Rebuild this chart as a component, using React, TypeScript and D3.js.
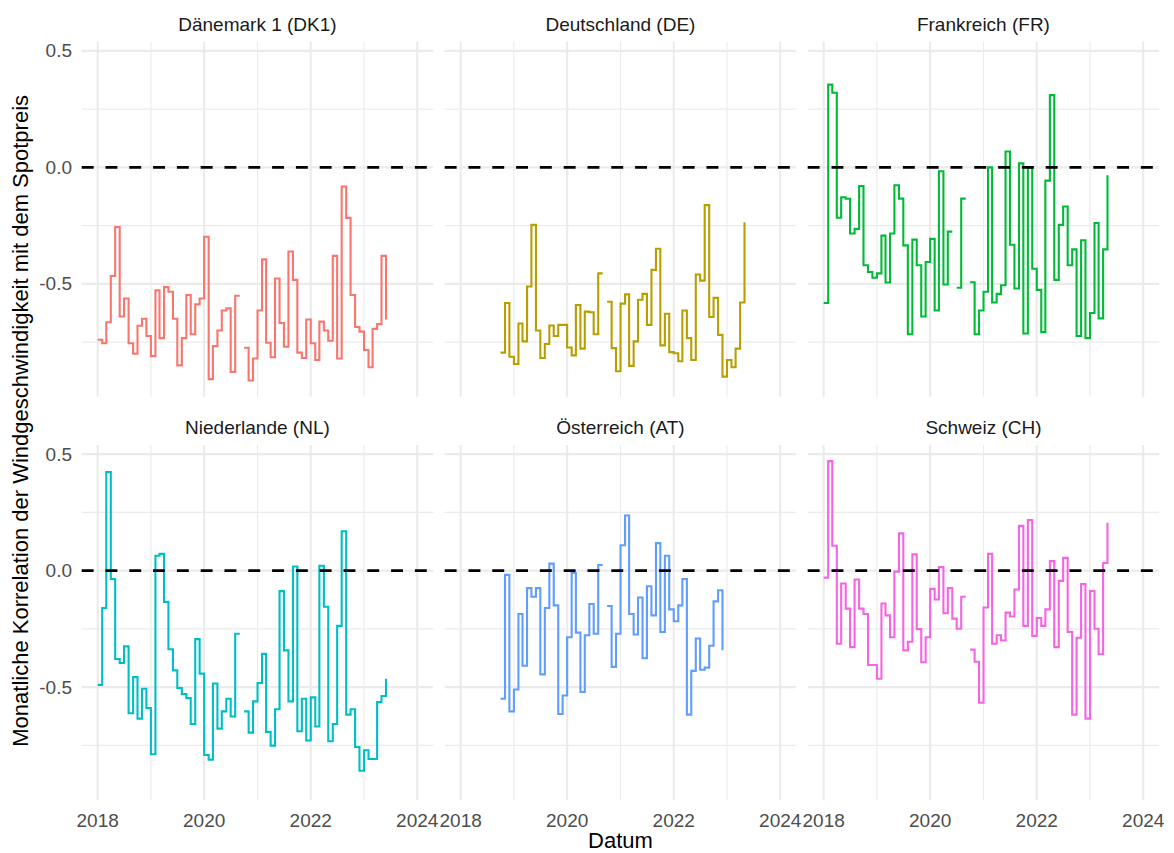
import * as d3 from "d3";

// monatliche Korrelationen, Index 0 = Jan 2018, null = keine Daten
const countries = ["Dänemark 1 (DK1)", "Deutschland (DE)", "Frankreich (FR)", "Niederlande (NL)", "Österreich (AT)", "Schweiz (CH)"];
const colors = ["#F8766D", "#B79F00", "#00BA38", "#00BFC4", "#619CFF", "#F564E3"];
const startMonth = [0, 9, 0, 0, 9, 0];

const dk1 = [-0.74, -0.755, -0.665, -0.466, -0.256, -0.64, -0.563, -0.755, -0.8, -0.68, -0.65, -0.724, -0.81, -0.528, -0.733, -0.514, -0.534, -0.65, -0.85, -0.733, -0.548, -0.716, -0.588, -0.563, -0.298, -0.909, -0.767, -0.7, -0.614, -0.605, -0.878, -0.551, null, -0.774, -0.915, -0.82, -0.614, -0.395, -0.753, -0.815, -0.477, -0.668, -0.77, -0.361, -0.483, -0.795, -0.818, -0.653, -0.755, -0.827, -0.662, -0.7, -0.744, -0.38, -0.82, -0.082, -0.217, -0.548, -0.685, -0.705, -0.784, -0.858, -0.693, -0.673, -0.38, -0.653];
const de = [-0.795, -0.582, -0.813, -0.844, -0.67, -0.747, -0.511, -0.247, -0.7, -0.818, -0.758, -0.679, -0.724, -0.676, -0.676, -0.773, -0.807, -0.591, -0.778, -0.619, -0.622, -0.716, -0.455, null, -0.577, -0.776, -0.875, -0.585, -0.545, -0.852, -0.747, -0.568, -0.543, -0.676, -0.44, -0.349, -0.764, -0.628, -0.793, -0.798, -0.832, -0.614, -0.733, -0.827, -0.46, -0.486, -0.162, -0.642, -0.56, -0.719, -0.898, -0.827, -0.858, -0.778, -0.58, -0.236];
const fr = [-0.582, 0.355, 0.32, -0.216, -0.128, -0.135, -0.284, -0.264, -0.08, -0.42, -0.449, -0.474, -0.455, -0.293, -0.494, -0.284, -0.077, -0.134, -0.335, -0.716, -0.31, -0.42, -0.64, -0.406, -0.307, -0.614, -0.017, -0.503, -0.276, null, -0.517, -0.134, null, -0.493, -0.716, -0.614, -0.534, 0.0, -0.58, -0.543, -0.506, 0.068, -0.332, -0.52, 0.017, -0.713, -0.003, -0.435, -0.526, -0.707, -0.057, 0.31, -0.483, -0.247, -0.168, -0.42, -0.352, -0.724, -0.313, -0.733, -0.625, -0.239, -0.648, -0.352, -0.034];
const nl = [-0.49, -0.16, 0.423, -0.036, -0.379, -0.396, -0.325, -0.612, -0.457, -0.635, -0.507, -0.59, -0.788, 0.064, 0.072, -0.134, -0.337, -0.428, -0.504, -0.53, -0.547, -0.658, -0.294, -0.442, -0.791, -0.811, -0.484, -0.678, -0.604, -0.55, -0.626, -0.271, null, -0.604, -0.695, -0.561, -0.482, -0.357, -0.692, -0.751, -0.595, -0.088, -0.342, -0.561, 0.018, -0.689, -0.55, -0.729, -0.544, -0.669, 0.021, -0.155, -0.732, -0.658, -0.237, 0.169, -0.618, -0.595, -0.757, -0.859, -0.771, -0.808, -0.808, -0.564, -0.538, -0.464];
const at = [-0.55, -0.018, -0.604, -0.51, -0.186, -0.408, -0.075, -0.112, -0.075, -0.445, -0.16, 0.03, -0.149, -0.615, -0.536, -0.286, -0.01, -0.266, -0.521, -0.277, -0.143, -0.271, 0.024, null, -0.152, -0.413, -0.271, 0.109, 0.237, -0.186, -0.274, -0.115, -0.376, -0.067, -0.192, 0.118, -0.263, 0.064, -0.166, -0.217, -0.149, -0.036, -0.618, -0.43, -0.291, -0.425, -0.416, -0.322, -0.132, -0.084, -0.342];
const ch = [-0.03, 0.47, 0.107, -0.314, -0.055, -0.163, -0.328, -0.038, -0.163, -0.186, -0.405, -0.405, -0.464, -0.141, -0.192, -0.286, -0.004, 0.16, -0.342, -0.305, 0.07, -0.251, -0.393, -0.286, -0.078, -0.124, 0.016, -0.183, -0.075, -0.206, -0.249, -0.112, null, -0.339, -0.391, -0.567, -0.158, 0.072, -0.314, -0.277, -0.3, -0.18, -0.197, -0.081, 0.192, -0.237, 0.217, -0.28, -0.203, -0.237, -0.166, 0.041, -0.328, -0.044, 0.055, -0.263, -0.618, -0.288, -0.058, -0.635, -0.087, -0.249, -0.359, 0.033, 0.206];
const seriesValues = [dk1, de, fr, nl, at, ch];

const yearMajor = [2018, 2020, 2022, 2024];
const yearMinor = [2019, 2021, 2023];
const yMajor = [-0.5, 0, 0.5];
const yMinor = [-0.75, -0.25, 0.25];

const W = 1174;
const H = 853;
const left = 81.7;
const panelW = 351.5;
const colGap = 11.5;
const top = 41.7;
const panelH = 355;
const rowGap = 48.3;
const font = "'Liberation Sans', Arial, sans-serif";

const t0 = new Date(Date.UTC(2018, 0, 1));
const month = (i: number) => d3.utcMonth.offset(t0, i);

export default function App() {
  const series = seriesValues.map((vals, k) =>
    vals.map((v, j) => ({ date: month(startMonth[k] + j), v }))
  );

  const xStart = t0.getTime();
  const xEnd = Date.UTC(2024, 0, 1);
  const xPad = (xEnd - xStart) * 0.05;
  const x = d3.scaleUtc([new Date(xStart - xPad), new Date(xEnd + xPad)], [0, panelW]);

  const allV = seriesValues.flat().filter((v) => v != null) as number[];
  const [vMin, vMax] = d3.extent(allV) as [number, number];
  const yPad = (vMax - vMin) * 0.05;
  const y = d3.scaleLinear([vMin - yPad, vMax + yPad], [panelH, 0]);

  // ggplot-artige Treppe: erst horizontal, dann vertikal, NA bricht die Linie
  const stepPath = (pts: { date: Date; v: number | null }[]) => {
    const st: [number, number | null][] = [];
    pts.forEach((p, i) => {
      if (i > 0) st.push([x(p.date), pts[i - 1].v]);
      st.push([x(p.date), p.v]);
    });
    return d3
      .line<[number, number | null]>()
      .defined((d) => d[1] != null)
      .x((d) => d[0])
      .y((d) => y(d[1] as number))(st);
  };

  const year = (yr: number) => new Date(Date.UTC(yr, 0, 1));

  return (
    <svg width={W} height={H} style={{ position: "absolute", left: 0, top: 0, background: "#fff" }} fontFamily={font}>
      {series.map((pts, k) => {
        const col = k % 3;
        const row = Math.floor(k / 3);
        const px = left + col * (panelW + colGap);
        const py = top + row * (panelH + rowGap);
        return (
          <g key={k} transform={`translate(${px},${py})`}>
            {yMinor.map((v) => (
              <line key={"ym" + v} x1={0} x2={panelW} y1={y(v)} y2={y(v)} stroke="#EBEBEB" strokeWidth={1.1} />
            ))}
            {yearMinor.map((yr) => (
              <line key={"xm" + yr} x1={x(year(yr))} x2={x(year(yr))} y1={0} y2={panelH} stroke="#EBEBEB" strokeWidth={1.1} />
            ))}
            {yMajor.map((v) => (
              <line key={"yM" + v} x1={0} x2={panelW} y1={y(v)} y2={y(v)} stroke="#EBEBEB" strokeWidth={2.1} />
            ))}
            {yearMajor.map((yr) => (
              <line key={"xM" + yr} x1={x(year(yr))} x2={x(year(yr))} y1={0} y2={panelH} stroke="#EBEBEB" strokeWidth={2.1} />
            ))}
            <path d={stepPath(pts) ?? ""} fill="none" stroke={colors[k]} strokeWidth={2.1} />
            <line x1={0} x2={panelW} y1={y(0)} y2={y(0)} stroke="#000" strokeWidth={2.6} strokeDasharray="11.9 11.9" />
            <text x={panelW / 2} y={-11} textAnchor="middle" fontSize={19} fill="#1A1A1A">
              {countries[k]}
            </text>
            {col === 0 &&
              yMajor.map((v) => (
                <text key={"yl" + v} x={-9.7} y={y(v)} dy="0.35em" textAnchor="end" fontSize={19} fill="#4D4D4D">
                  {d3.format(".1f")(v).replace("−", "-")}
                </text>
              ))}
            {row === 1 &&
              yearMajor.map((yr) => (
                <text key={"xl" + yr} x={x(year(yr))} y={panelH + 27} textAnchor="middle" fontSize={19} fill="#4D4D4D">
                  {yr}
                </text>
              ))}
          </g>
        );
      })}
      <text x={left + (3 * panelW + 2 * colGap) / 2} y={848} textAnchor="middle" fontSize={22} fill="#000">
        Datum
      </text>
      <text
        transform={`translate(28,${top + (2 * panelH + rowGap) / 2}) rotate(-90)`}
        textAnchor="middle"
        fontSize={22}
        fill="#000"
      >
        Monatliche Korrelation der Windgeschwindigkeit mit dem Spotpreis
      </text>
    </svg>
  );
}
